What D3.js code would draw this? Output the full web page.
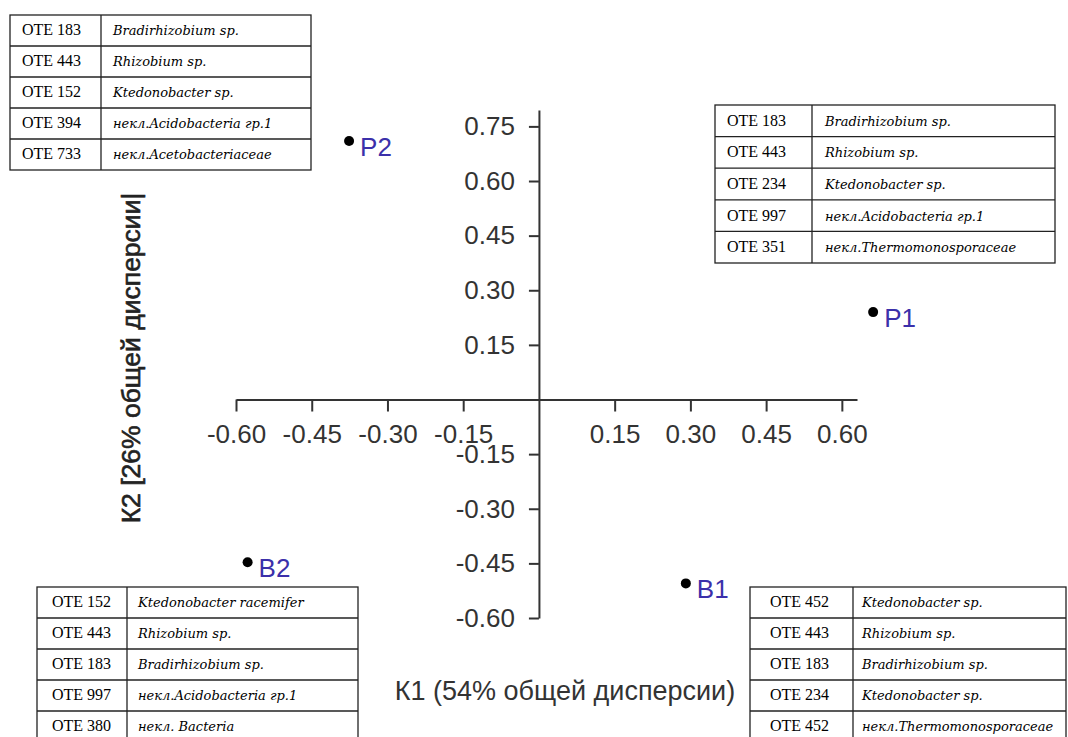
<!DOCTYPE html>
<html lang="ru">
<head>
<meta charset="utf-8">
<script src="https://cdn.jsdelivr.net/npm/d3@7"></script>
<style>
  html, body { margin: 0; padding: 0; background: #fff; }
  svg { display: block; }
  .otu { font-family: "Liberation Serif", "DejaVu Serif", serif; font-size: 16px; }
  .taxon { font-family: "DejaVu Serif", "Liberation Serif", serif; font-style: italic; font-size: 13px; }
</style>
</head>
<body>
<svg id="chart" width="1068" height="737"></svg>
<script>
// Sample scores on the first two components
const sampleNames = ["P1", "P2", "B1", "B2"];
const k1Scores = [0.662, -0.376, 0.291, -0.577];
const k2Scores = [0.24, 0.71, -0.505, -0.447];

// Axis tick values (zero is left unlabeled)
const k1Ticks = [-0.60, -0.45, -0.30, -0.15, 0.15, 0.30, 0.45, 0.60];
const k2Ticks = [0.75, 0.60, 0.45, 0.30, 0.15, -0.15, -0.30, -0.45, -0.60];

const k1Title = "К1 (54% общей дисперсии)";
const k2Title = "К2 [26% общей дисперсии|";

// Dominant OTU tables for each sample
const p2Otu = ["ОТЕ 183", "ОТЕ 443", "ОТЕ 152", "ОТЕ 394", "ОТЕ 733"];
const p2Taxa = ["Bradirhizobium sp.", "Rhizobium sp.", "Ktedonobacter sp.", "некл.Acidobacteria гр.1", "некл.Acetobacteriaceae"];
const p1Otu = ["ОТЕ 183", "ОТЕ 443", "ОТЕ 234", "ОТЕ 997", "ОТЕ 351"];
const p1Taxa = ["Bradirhizobium sp.", "Rhizobium sp.", "Ktedonobacter sp.", "некл.Acidobacteria гр.1", "некл.Thermomonosporaceae"];
const b2Otu = ["ОТЕ 152", "ОТЕ 443", "ОТЕ 183", "ОТЕ 997", "ОТЕ 380"];
const b2Taxa = ["Ktedonobacter racemifer", "Rhizobium sp.", "Bradirhizobium sp.", "некл.Acidobacteria гр.1", "некл. Bacteria"];
const b1Otu = ["ОТЕ 452", "ОТЕ 443", "ОТЕ 183", "ОТЕ 234", "ОТЕ 452"];
const b1Taxa = ["Ktedonobacter sp.", "Rhizobium sp.", "Bradirhizobium sp.", "Ktedonobacter sp.", "некл.Thermomonosporaceae"];

const svg = d3.select("#chart");

const x = d3.scaleLinear().domain([-0.60, 0.63]).range([236, 857]);
const y = d3.scaleLinear().domain([-0.60, 0.795]).range([618, 110]);

const axisColor = "#333";
const sansFont = "'Liberation Sans', Arial, sans-serif";
// Two decimals with a plain hyphen as the minus sign
const fmt = v => d3.format(".2f")(v).replace("\u2212", "-");

// Horizontal axis through y = 0
const xAxis = svg.append("g")
  .attr("transform", `translate(0,${y(0)})`)
  .call(d3.axisBottom(x)
    .tickValues(k1Ticks)
    .tickFormat(fmt)
    .tickSize(12)
    .tickSizeOuter(0)
    .tickPadding(13));

// Vertical axis through x = 0
const yAxis = svg.append("g")
  .attr("transform", `translate(${x(0)},0)`)
  .call(d3.axisLeft(y)
    .tickValues(k2Ticks)
    .tickFormat(fmt)
    .tickSize(10)
    .tickSizeOuter(0)
    .tickPadding(14));

[xAxis, yAxis].forEach(g => {
  g.selectAll("path.domain").attr("stroke", axisColor).attr("stroke-width", 2);
  g.selectAll(".tick line").attr("stroke", axisColor).attr("stroke-width", 2);
  g.selectAll(".tick text")
    .attr("fill", axisColor)
    .style("font-family", sansFont)
    .style("font-size", "26px");
});

// Axis titles
svg.append("text")
  .attr("x", 565).attr("y", 700)
  .attr("text-anchor", "middle")
  .attr("fill", axisColor)
  .style("font-family", sansFont)
  .style("font-size", "27px")
  .text(k1Title);

svg.append("text")
  .attr("transform", "translate(140,358) rotate(-90)")
  .attr("text-anchor", "middle")
  .attr("fill", "#222")
  .attr("stroke", "#222")
  .attr("stroke-width", 0.6)
  .style("font-family", sansFont)
  .style("font-size", "26.5px")
  .text(k2Title);

// Sample points with labels
const samples = sampleNames.map((name, i) => ({ name, k1: k1Scores[i], k2: k2Scores[i] }));
const pts = svg.append("g").selectAll("g").data(samples).join("g")
  .attr("transform", d => `translate(${x(d.k1)},${y(d.k2)})`);
pts.append("circle").attr("r", 5).attr("fill", "#000");
pts.append("text")
  .attr("x", 11).attr("y", 15)
  .attr("fill", "#3b30aa")
  .style("font-family", sansFont)
  .style("font-size", "26px")
  .text(d => d.name);

// Two-column bordered tables of OTUs
function drawTable(otu, taxa, left, top, divider, right, rowH, pad1, pad2) {
  const g = svg.append("g");
  const rows = otu.map((o, i) => ({ o, t: taxa[i], i }));
  const bottom = top + rowH * rows.length;
  g.append("rect")
    .attr("x", left).attr("y", top)
    .attr("width", right - left).attr("height", bottom - top)
    .attr("fill", "#fff").attr("stroke", "#222").attr("stroke-width", 1.3);
  g.append("line")
    .attr("x1", divider).attr("x2", divider).attr("y1", top).attr("y2", bottom)
    .attr("stroke", "#222").attr("stroke-width", 1.3);
  g.selectAll("line.row").data(rows.slice(1)).join("line")
    .attr("class", "row")
    .attr("x1", left).attr("x2", right)
    .attr("y1", d => top + d.i * rowH).attr("y2", d => top + d.i * rowH)
    .attr("stroke", "#222").attr("stroke-width", 1.3);
  g.selectAll("text.otu").data(rows).join("text")
    .attr("class", "otu")
    .attr("x", left + pad1).attr("y", d => top + d.i * rowH + rowH * 0.66)
    .text(d => d.o);
  g.selectAll("text.taxon").data(rows).join("text")
    .attr("class", "taxon")
    .attr("x", divider + pad2).attr("y", d => top + d.i * rowH + rowH * 0.66)
    .text(d => d.t);
}

drawTable(p2Otu, p2Taxa, 10, 15, 101, 311, 31, 12, 12);
drawTable(p1Otu, p1Taxa, 715, 105, 812, 1055, 31.6, 12, 13);
drawTable(b2Otu, b2Taxa, 37, 587, 127, 358, 31, 15, 11);
drawTable(b1Otu, b1Taxa, 750, 587, 853, 1066, 31, 20, 9);
</script>
</body>
</html>
